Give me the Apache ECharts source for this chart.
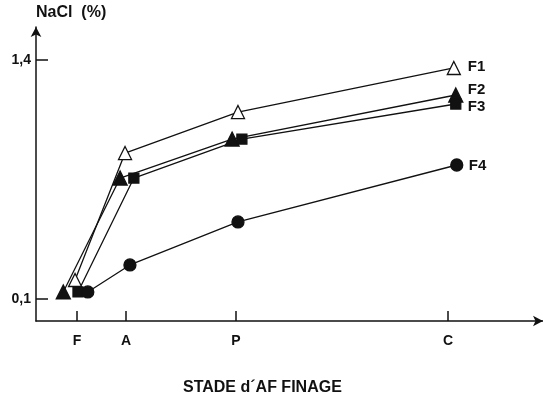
<!DOCTYPE html>
<html>
<head>
<meta charset="utf-8">
<script src="https://cdn.jsdelivr.net/npm/echarts@6/dist/echarts.min.js"></script>
<style>html,body{margin:0;padding:0;background:#fff}#c{width:543px;height:403px}</style>
</head>
<body>
<div id="c"></div>
<script>
// Stages of ripening (x positions, arbitrary time units)
var stages = ['F', 'A', 'P', 'C'];
var stageX = [0, 1, 3.245, 7.57];
// NaCl (%) per cheese series
var F1 = [0.203, 0.894, 1.117, 1.357];
var F2 = [0.138, 0.758, 0.970, 1.210];
var F3 = [0.138, 0.758, 0.970, 1.161];
var F4 = [0.138, 0.285, 0.519, 0.829];
var yTicks = [0.1, 1.4];
var yTickLabels = ['0,1', '1,4'];
var seriesNames = ['F1', 'F2', 'F3', 'F4'];

// display jitter (horizontal marker offsets, as in the original figure)
var jitter = {
  F1: [-0.04, -0.02, 0.04, 0.12],
  F2: [-0.28, -0.12, -0.08, 0.16],
  F3: [0.02, 0.16, 0.12, 0.16],
  F4: [0.22, 0.08, 0.04, 0.18]
};

function pts(name, vals) {
  return vals.map(function (v, i) { return [stageX[i] + jitter[name][i], v]; });
}

var font = '"Liberation Sans", Arial, Helvetica, sans-serif';
var ink = '#111';

function mkSeries(name, vals, symbol, size, fill, labOff) {
  return {
    name: name, type: 'line', data: pts(name, vals),
    symbol: symbol, symbolSize: size, showAllSymbol: true,
    lineStyle: { color: ink, width: 1.3 },
    itemStyle: { color: fill, borderColor: ink, borderWidth: 1.3 },
    emphasis: { disabled: true },
    endLabel: { show: true, formatter: name, offset: labOff,
      fontFamily: font, fontWeight: 'bold', fontSize: 15, color: ink },
    z: 2
  };
}

var chart = echarts.init(document.getElementById('c'));
chart.setOption({
  animation: false,
  grid: { left: 36, right: 0, top: 27, bottom: 82 },
  xAxis: {
    type: 'value', min: -0.837, max: 9.51,
    axisLine: { show: true, onZero: false, lineStyle: { color: ink, width: 1.5 }, symbol: ['none', 'arrow'], symbolSize: [8, 10] },
    axisTick: { show: true, inside: true, length: 10, lineStyle: { color: ink, width: 1.5 }, customValues: stageX },
    axisLabel: { show: true, customValues: stageX, margin: 13,
      formatter: function (v) { var i = stageX.indexOf(v); return i >= 0 ? stages[i] : ''; },
      fontFamily: font, fontWeight: 'bold', fontSize: 14, color: ink },
    splitLine: { show: false }
  },
  yAxis: {
    type: 'value', min: -0.02, max: 1.58,
    axisLine: { show: true, onZero: false, lineStyle: { color: ink, width: 1.5 }, symbol: ['none', 'arrow'], symbolSize: [8, 10] },
    axisTick: { show: true, inside: true, length: 12, lineStyle: { color: ink, width: 1.5 }, customValues: yTicks },
    axisLabel: { show: true, customValues: yTicks, margin: 5,
      formatter: function (v) { var i = yTicks.indexOf(v); return i >= 0 ? yTickLabels[i] : ''; },
      fontFamily: font, fontWeight: 'bold', fontSize: 14, color: ink },
    splitLine: { show: false }
  },
  graphic: [
    { type: 'text', left: 36, top: 5, style: { text: 'NaCl  (%)', font: 'bold 16px ' + font, fill: ink } },
    { type: 'text', left: 183, top: 380, style: { text: 'STADE d\u00B4AF FINAGE', font: 'bold 16px ' + font, fill: ink } }
  ],
  series: [
    mkSeries(seriesNames[1], F2, 'triangle', 14, ink, [4, -5]),
    mkSeries(seriesNames[2], F3, 'rect', 10, ink, [4, 3]),
    mkSeries(seriesNames[3], F4, 'circle', 12, ink, [4, 1]),
    mkSeries(seriesNames[0], F1, 'triangle', 13, '#fff', [6, -1])
  ]
});
</script>
</body>
</html>
